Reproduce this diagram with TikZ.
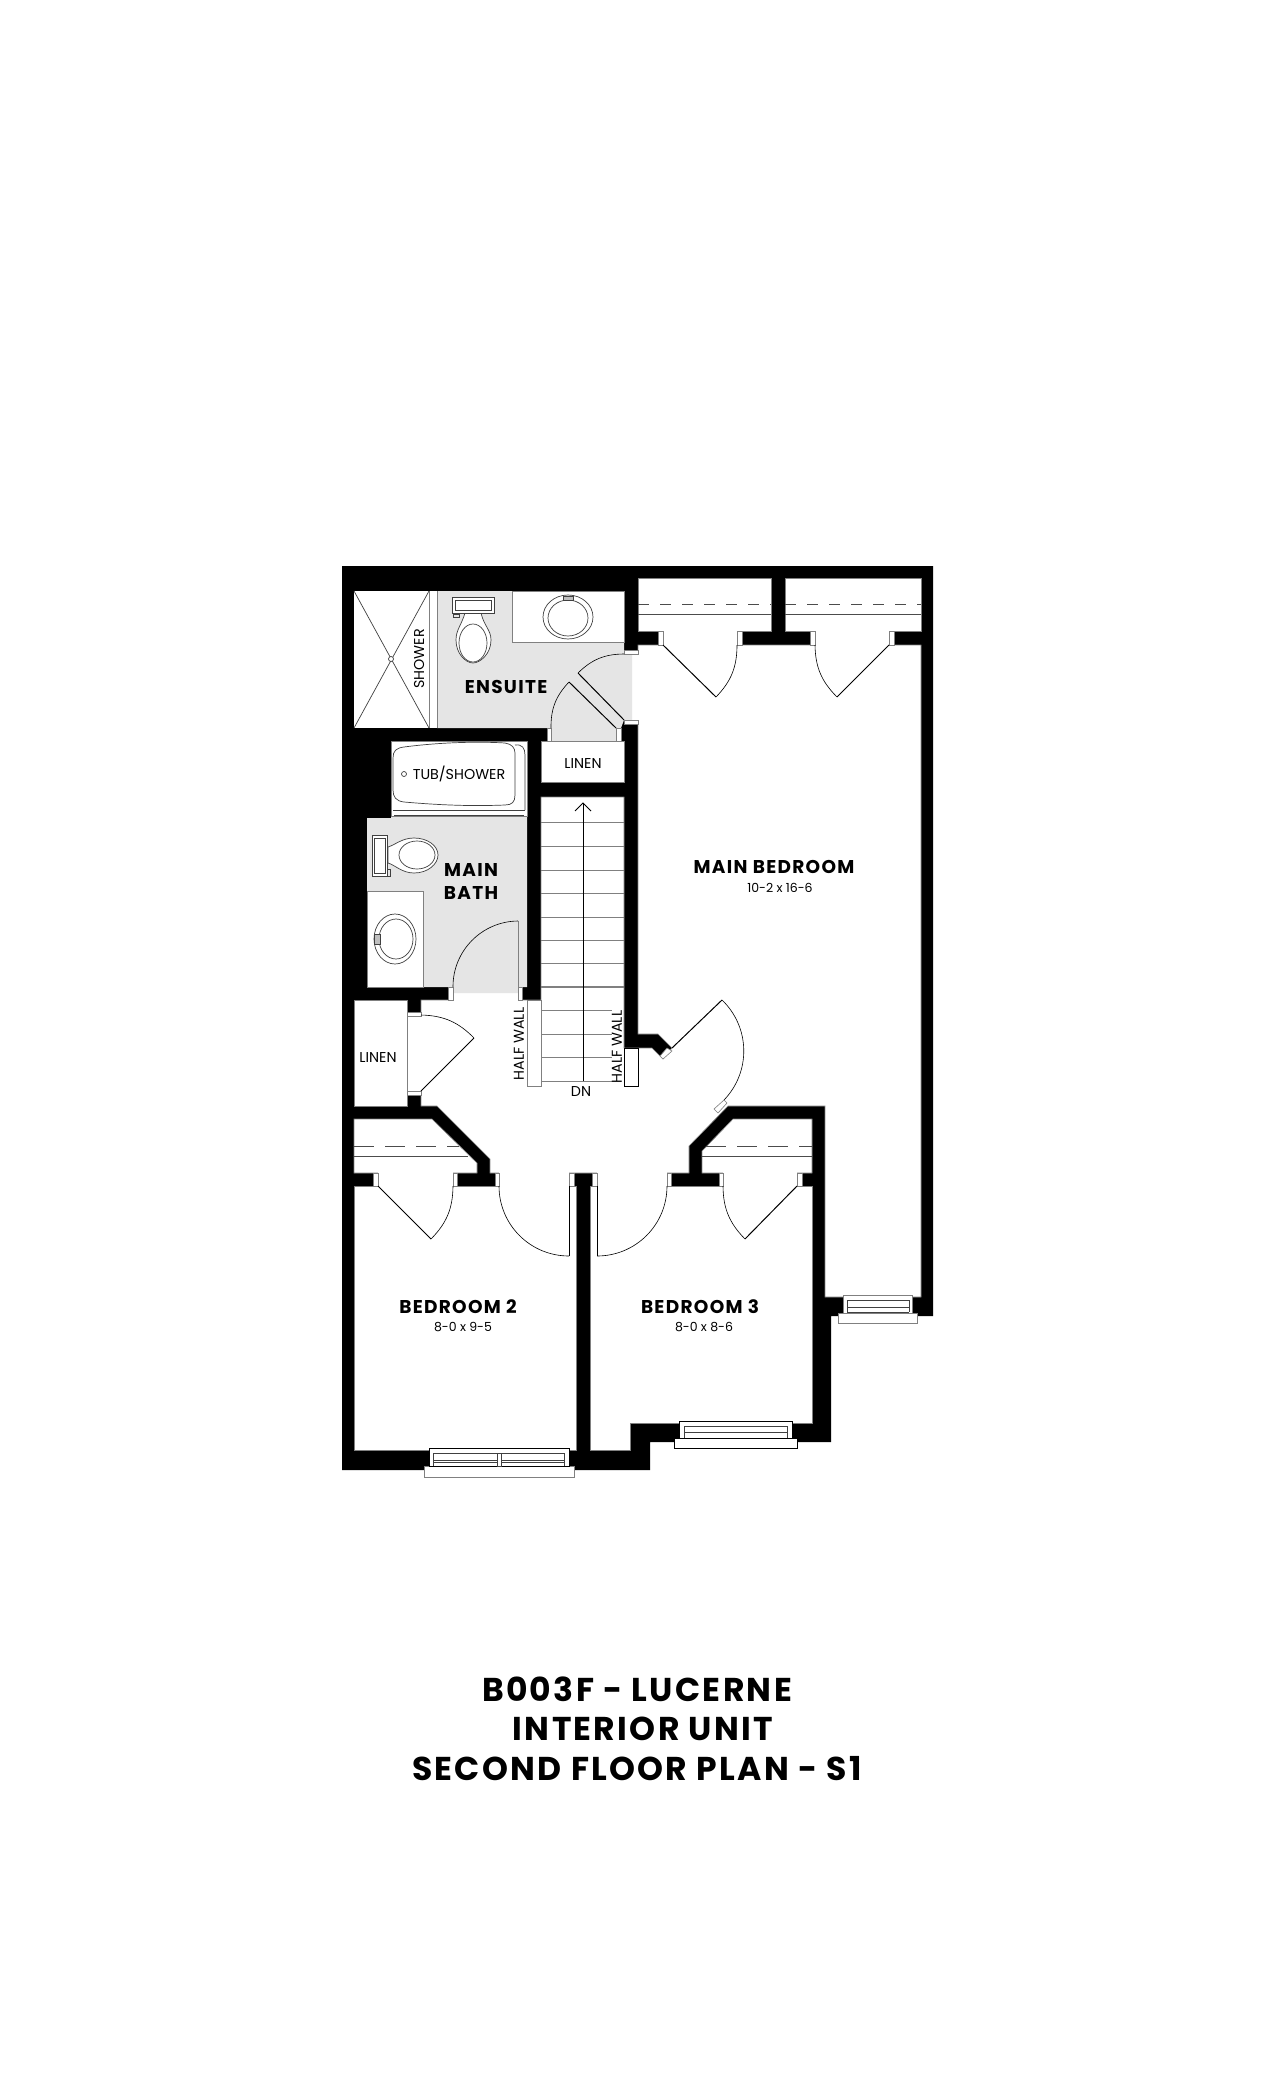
\documentclass[tikz,border=0pt]{standalone}
\usepackage{fontspec}
\setmainfont{Poppins}
\newfontfamily\spacedfont[LetterSpace=7]{Poppins}
\usepackage{xcolor}
\definecolor{bathgray}{HTML}{E5E5E5}
\definecolor{edgegray}{HTML}{808080}

\begin{document}
\begin{tikzpicture}[x=1pt,y=-1pt,
    room/.style={fill=white, draw=edgegray, line width=0.6pt},
    wet/.style={fill=bathgray},
    jamb/.style={fill=white, draw=edgegray, line width=0.6pt},
    fixture/.style={draw=black!75, line width=0.7pt},
    thinline/.style={draw=edgegray, line width=0.9pt},
    leaf/.style={draw=black, line width=1pt},
    swing/.style={draw=black, line width=0.6pt},
    closetline/.style={draw=black!70, line width=0.7pt},
    title/.style={font=\spacedfont\fontsize{33}{33}\selectfont\bfseries, inner sep=0pt},
    roomname/.style={font=\spacedfont\fontsize{18.5}{18.5}\selectfont\bfseries, inner sep=0pt},
    roomsize/.style={font=\fontsize{12.5}{12.5}\selectfont, inner sep=0pt},
    small/.style={font=\fontsize{14.3}{14.3}\selectfont, inner sep=0pt}]
    \useasboundingbox (0,0) rectangle (1275,2100);
    \fill[white] (0,0) rectangle (1275,2100);

    % footprint, everything left black is wall
    \fill[black] (342,566) -- (933,566) -- (933,1316) -- (831,1316) -- (831,1442) -- (650,1442) -- (650,1470) -- (342,1470) -- cycle;

    % hall and main bedroom
    \draw[room] (638,645) -- (921,645) -- (921,1297) -- (825,1297) -- (825,1106) -- (728,1106) -- (689,1146) -- (689,1173)
        -- (490,1173) -- (490,1159) -- (437,1106) -- (421,1106) -- (421,1000) -- (541,1000) -- (541,797) -- (624,797)
        -- (624,1048) -- (652,1048) -- (663,1059) -- (672,1048) -- (658,1034) -- (638,1034) -- cycle;

    % bedrooms
    \draw[room] (354,1186) -- (576,1186) -- (576,1450) -- (354,1450) -- cycle;
    \draw[room] (590,1186) -- (812,1186) -- (812,1423) -- (630,1423) -- (630,1450) -- (590,1450) -- cycle;

    % closets
    \draw[room] (638,578) rectangle (771,631);
    \draw[room] (785,578) rectangle (921,631);
    \draw[room] (354,1119) -- (432,1119) -- (477,1163) -- (477,1173) -- (354,1173) -- cycle;
    \draw[room] (733,1119) -- (812,1119) -- (812,1173) -- (702,1173) -- (702,1151) -- cycle;
    \draw[room] (354,1000) rectangle (407,1106);
    \draw[room] (541,741) rectangle (624,782);

    % closet rails
    \draw[closetline, dash pattern=on 11pt off 11pt] (638,604) -- (771,604);
    \draw[closetline] (638,614) -- (771,614);
    \draw[closetline, dash pattern=on 11pt off 11pt] (785,604) -- (921,604);
    \draw[closetline] (785,614) -- (921,614);
    \draw[closetline, dash pattern=on 20pt off 11pt] (354,1146) -- (459,1146);
    \draw[closetline] (354,1156) -- (468,1156);
    \draw[closetline, dash pattern=on 20pt off 11pt] (706,1146) -- (812,1146);
    \draw[closetline] (702,1156) -- (812,1156);

    % door openings
    \fill[white] (663,630) rectangle (737,646);
    \fill[white] (815,630) rectangle (889,646);
    \fill[white] (378,1172) rectangle (453,1187);
    \fill[white] (499,1172) rectangle (569,1187);
    \fill[white] (597,1172) rectangle (667,1187);
    \fill[white] (723,1172) rectangle (797,1187);
    \fill[white] (406,1016) rectangle (422,1091);
    \fill[white] (624,654) rectangle (639,720);
    \fill[white] (453,987) rectangle (518,1001);

    % ensuite
    \fill[wet] (437,591) -- (624,591) -- (624,654) -- (632,654) -- (632,720) -- (624,720) -- (621,728) -- (616,728) -- (616,741) -- (551,741) -- (551,728) -- (437,728) -- cycle;
    \draw[room] (512,591) -- (624,591) -- (624,642) -- (512,642) -- cycle;
    \fill[white] (354,591) rectangle (437,728);
    \draw[thinline] (429,591) -- (429,728);
    \draw[thinline] (437,591) -- (437,728);
    \draw[fixture] (354,591) -- (429,728);
    \draw[fixture] (429,591) -- (354,728);
    \draw[fixture, fill=white] (391,659) circle (2.5);
    \draw[thinline] (541,741) -- (624,741);

    % ensuite toilet
    \draw[fixture, fill=white] (465,613) .. controls (461,626) and (456,630) .. (456,640) .. controls (456,654) and (466,663) .. (473,663) .. controls (480,663) and (491,654) .. (491,640) .. controls (491,630) and (484,626) .. (481,613) -- cycle;
    \draw[fixture] (473,643) ellipse (14 and 19);
    \draw[fixture, fill=white] (452,597) rectangle (494,613);
    \draw[fixture] (455,600) rectangle (491,610);
    \draw[fixture] (453,614) rectangle (459,617);

    % ensuite sink
    \draw[fixture] (568,617) ellipse (25 and 22);
    \draw[fixture] (568,618) ellipse (20 and 18);
    \draw[fixture, fill=edgegray!50] (563,596) rectangle (573,600);

    % main bath
    \fill[wet] (367,818) -- (391,818) -- (391,816) -- (527,816) -- (527,987) -- (518,987) -- (518,993) -- (453,993) -- (453,987) -- (367,987) -- cycle;
    \draw[room] (367,891) rectangle (423,987);
    \draw[thinline] (518,921) -- (518,987);

    % tub
    \draw[room] (391,741) rectangle (527,816);
    \draw[fixture] (515,745) .. controls (522,744) and (525,748) .. (525,755) -- (525,810);
    \draw[fixture] (404,747) .. controls (450,741) and (490,742) .. (505,743) .. controls (512,744) and (515,748) .. (515,753) -- (515,795) .. controls (515,802) and (512,805) .. (505,805) .. controls (480,806) and (450,806) .. (404,802) .. controls (396,801) and (393,797) .. (393,790) -- (393,758) .. controls (393,751) and (396,748) .. (404,747) -- cycle;
    \draw[fixture] (393,810) -- (525,810);
    \draw[fixture] (394,815) -- (524,815);
    \draw[fixture, fill=white] (404,774) circle (2.5);

    % bath toilet
    \draw[fixture, fill=white] (388,847) .. controls (395,845) and (402,838) .. (414,838) .. controls (428,838) and (438,846) .. (438,855) .. controls (438,864) and (428,873) .. (414,873) .. controls (402,873) and (395,865) .. (388,863) -- cycle;
    \draw[fixture] (417,855) ellipse (18 and 14);
    \draw[fixture, fill=white] (372,835) rectangle (387,876);
    \draw[fixture] (374,838) rectangle (385,873);
    \draw[fixture] (387,869) rectangle (390,876);

    % vanity sink
    \draw[fixture] (395,939) ellipse (21 and 25);
    \draw[fixture] (396,939) ellipse (17 and 20);
    \draw[fixture, fill=edgegray!50] (374,934) rectangle (380,944);

    % stairs
    \foreach \y in {822,846,870,893,917,940,963}
        \draw[thinline] (541,\y) -- (624,\y);
    \draw[thinline, line width=1.3pt] (541,987) -- (624,987);
    \foreach \y in {1010,1034,1057,1081}
        \draw[thinline] (541,\y) -- (612,\y);
    \draw[black, line width=0.8pt] (583,1081) -- (583,803);
    \draw[black, line width=0.8pt] (575,811) -- (583,803) -- (591,811);
    \draw[room] (527,1000) rectangle (541,1086);
    \draw[room, draw=black] (624,1048) rectangle (638,1086);

    % jambs
    \draw[jamb] (658,631) rectangle (663,645);
    \draw[jamb] (737,631) rectangle (742,645);
    \draw[jamb] (810,631) rectangle (815,645);
    \draw[jamb] (889,631) rectangle (894,645);
    \draw[jamb] (373,1173) rectangle (378,1186);
    \draw[jamb] (453,1173) rectangle (457,1186);
    \draw[jamb] (495,1173) rectangle (499,1186);
    \draw[jamb] (569,1173) rectangle (574,1186);
    \draw[jamb] (592,1173) rectangle (597,1186);
    \draw[jamb] (667,1173) rectangle (671,1186);
    \draw[jamb] (719,1173) rectangle (723,1186);
    \draw[jamb] (797,1173) rectangle (802,1186);
    \draw[jamb] (407,1012) rectangle (421,1016);
    \draw[jamb] (407,1091) rectangle (421,1095);
    \draw[jamb] (624,650) rectangle (638,654);
    \draw[jamb] (624,720) rectangle (638,724);
    \draw[jamb] (547,728) rectangle (551,741);
    \draw[jamb] (616,728) rectangle (621,741);
    \draw[jamb] (448,987) rectangle (453,1000);
    \draw[jamb] (518,987) rectangle (522,1000);
    \draw[jamb] (667,1048) -- (672,1051) -- (663,1059) -- (660,1056) -- cycle;
    \draw[jamb] (714,1109) -- (724,1100) -- (727,1103) -- (718,1113) -- cycle;
    \draw[thinline] (407,1016) -- (407,1091);

    % door leaves
    \draw[leaf] (663,645) -- (716,697);
    \draw[swing] (716,697) to[bend right=22] (737,645);
    \draw[leaf] (889,645) -- (837,697);
    \draw[swing] (837,697) to[bend left=22] (815,645);
    \draw[leaf] (378,1186) -- (431,1239);
    \draw[swing] (431,1239) to[bend right=22] (453,1186);
    \draw[leaf] (797,1186) -- (745,1239);
    \draw[swing] (745,1239) to[bend left=22] (723,1186);
    \draw[leaf] (624,720) -- (578,673);
    \draw[swing] (578,673) to[bend left=22] (624,654);
    \draw[leaf] (616,728) -- (569,682);
    \draw[swing] (569,682) to[bend right=22] (551,728);
    \draw[leaf] (421,1091) -- (474,1038);
    \draw[swing] (474,1038) to[bend right=22] (421,1015);
    \draw[leaf] (672,1048) -- (722,1000);
    \draw[swing] (722,1000) to[bend left=45] (724,1100);
    \draw[swing] (499,1186) to[bend right=45] (569,1256);
    \draw[swing] (569,1256) -- (569,1186);
    \draw[swing] (597,1186) -- (597,1256);
    \draw[swing] (597,1256) to[bend right=45] (667,1186);
    \draw[swing] (518,921) to[bend right=45] (453,987);

    % windows
    \draw[room] (424,1466) rectangle (574,1477);
    \draw[room, draw=black] (429,1448) rectangle (569,1466);
    \draw[fixture] (433,1453) -- (564,1453) -- (564,1466);
    \draw[fixture] (433,1453) -- (433,1466);
    \draw[fixture] (433,1460) -- (564,1460);
    \draw[fixture] (433,1462) -- (564,1462);
    \draw[fixture, fill=white] (497,1453) rectangle (501,1466);

    \draw[room, draw=black] (674,1438) rectangle (797,1448);
    \draw[room, draw=black] (679,1421) rectangle (792,1438);
    \draw[fixture] (684,1426) -- (787,1426) -- (787,1438);
    \draw[fixture] (684,1426) -- (684,1438);
    \draw[fixture] (684,1432) -- (787,1432);

    \draw[room] (838,1313) rectangle (917,1323);
    \draw[room] (843,1295) rectangle (912,1313);
    \draw[fixture] (847,1300) -- (909,1300) -- (909,1312);
    \draw[fixture] (847,1300) -- (847,1312);
    \draw[fixture] (847,1307) -- (909,1307);
    \draw[fixture] (847,1312) -- (909,1312);

    % labels
    \node[small, rotate=90] (showerlabel) at (419,659) {SHOWER};
    \node[roomname] (ensuite) at (506,687) {ENSUITE};
    \node[small] (tublabel) at (459,774) {TUB/SHOWER};
    \node[small] (linena) at (583,764) {LINEN};
    \node[small] (linenb) at (378,1057) {LINEN};
    \node[roomname] (mainlabel) at (471,870) {MAIN};
    \node[roomname] (bathlabel) at (471,893) {BATH};
    \node[small, rotate=90] (halfa) at (519,1044) {HALF WALL};
    \node[small, rotate=90] (halfb) at (617,1047) {HALF WALL};
    \node[small] (dn) at (581,1091) {DN};
    \node[roomname] (mainbed) at (774,867) {MAIN BEDROOM};
    \node[roomsize] (mainsize) at (780,888) {10-2 x 16-6};
    \node[roomname] (beda) at (458,1307) {BEDROOM 2};
    \node[roomsize] (bedasize) at (463,1327) {8-0 x 9-5};
    \node[roomname] (bedb) at (700,1307) {BEDROOM 3};
    \node[roomsize] (bedbsize) at (704,1327) {8-0 x 8-6};

    \node[title] (titlea) at (637,1689) {B003F - LUCERNE};
    \node[title] (titleb) at (643,1729) {INTERIOR UNIT};
    \node[title] (titlec) at (637,1769) {SECOND FLOOR PLAN - S1};
  \end{tikzpicture}
\end{document}
